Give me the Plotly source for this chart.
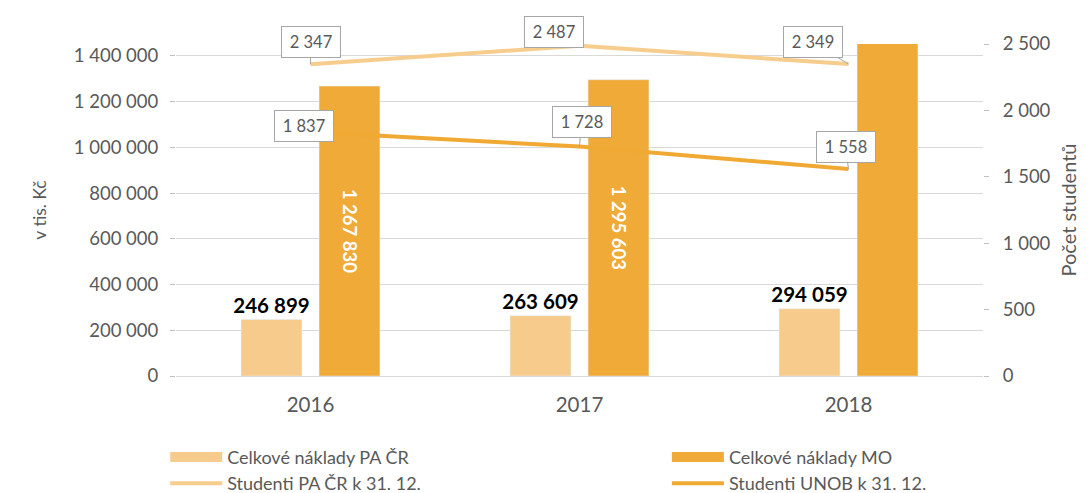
import plotly.graph_objects as go

years = ["2016", "2017", "2018"]
naklady_pa = [246899, 263609, 294059]
naklady_mo = [1267830, 1295603, 1455925]
studenti_pa = [2347, 2487, 2349]
studenti_unob = [1837, 1728, 1558]

y_ticks = [0, 200000, 400000, 600000, 800000, 1000000, 1200000, 1400000]
y2_ticks = [0, 500, 1000, 1500, 2000, 2500]

def fmt(v):
    return f"{v:,}".replace(",", " ")

FONT = "Lato"
GRAY = "#595959"
C_PA_BAR = "#F6CB8C"
C_MO_BAR = "#F0AA38"
C_PA_LINE = "#F7CD8E"
C_UNOB_LINE = "#F0A933"

fig = go.Figure()
fig.add_trace(go.Bar(
    x=years, y=naklady_pa, name="Celkové náklady PA ČR", showlegend=False,
    marker=dict(color=C_PA_BAR),
    text=["<b>" + fmt(v) + "</b>" for v in naklady_pa], textposition="outside",
    constraintext="none",
    textfont=dict(family=FONT, size=20.5, color="black"),
    cliponaxis=False,
))
fig.add_trace(go.Bar(
    x=years, y=naklady_mo, name="Celkové náklady MO", showlegend=False,
    marker=dict(color=C_MO_BAR),
    text=["<b>" + fmt(v) + "</b>" for v in naklady_mo], textposition="inside",
    insidetextanchor="middle", textangle=90, constraintext="none",
    textfont=dict(family=FONT, size=18.5, color="white"),
))
fig.add_trace(go.Scatter(
    x=years, y=studenti_pa, name="Studenti PA ČR k 31. 12.", yaxis="y2",
    mode="lines", line=dict(color=C_PA_LINE, width=4), showlegend=False,
))
fig.add_trace(go.Scatter(
    x=years, y=studenti_unob, name="Studenti UNOB k 31. 12.", yaxis="y2",
    mode="lines", line=dict(color=C_UNOB_LINE, width=4), showlegend=False,
))

# legend entries (two columns)
legend_items = [
    ("Celkové náklady PA ČR", C_PA_BAR, 14, "legend"),
    ("Studenti PA ČR k 31. 12.", C_PA_LINE, 4, "legend"),
    ("Celkové náklady MO", C_MO_BAR, 14, "legend2"),
    ("Studenti UNOB k 31. 12.", C_UNOB_LINE, 4, "legend2"),
]
for name, color, w, lg in legend_items:
    fig.add_trace(go.Scatter(
        x=[None], y=[None], name=name, mode="lines",
        line=dict(color=color, width=w), legend=lg, hoverinfo="skip",
    ))

# callout labels for lines (x as category index)
offsets_pa = [(0, -22), (-26, -14), (-36, -22)]
offsets_unob = [(-7, -6), (2, -25), (-3, -22)]
for vals, offs in ((studenti_pa, offsets_pa), (studenti_unob, offsets_unob)):
    for i, (v, (ax, ay)) in enumerate(zip(vals, offs)):
        fig.add_annotation(
            x=i, y=v, xref="x", yref="y2", text=fmt(v),
            showarrow=True, ax=ax, ay=ay, arrowhead=0, arrowwidth=1,
            arrowcolor="#A6A6A6", standoff=0,
            width=48, height=20,
            bgcolor="white", bordercolor="#A6A6A6", borderwidth=1, borderpad=5,
            font=dict(family=FONT, size=16.5, color=GRAY),
        )

legend_common = dict(
    orientation="v", xanchor="left", yanchor="top", yref="container", y=0.112,
    itemwidth=52, font=dict(family=FONT, size=18, color=GRAY),
    bgcolor="rgba(0,0,0,0)", tracegroupgap=0,
)

fig.update_layout(
    width=1081, height=485,
    margin=dict(l=168, r=96, t=36, b=117),
    paper_bgcolor="white", plot_bgcolor="white",
    font=dict(family=FONT, color=GRAY, size=18),
    barmode="group", bargap=0.42, bargroupgap=0.22,
    showlegend=True,
    legend=dict(x=-0.0134, **legend_common),
    legend2=dict(x=0.6083, **legend_common),
    xaxis=dict(
        type="category", range=[-0.5, 2.5],
        showgrid=False, showline=True, linecolor="#D9D9D9", linewidth=1,
        ticks="", tickfont=dict(size=20.5, color=GRAY), ticklabelstandoff=10,
    ),
    yaxis=dict(
        range=[0, 1452000], tickvals=y_ticks, ticktext=[fmt(v) for v in y_ticks],
        showgrid=True, gridcolor="#D9D9D9", gridwidth=1,
        zeroline=False, showline=False,
        ticks="outside", ticklen=5, tickcolor="#BFBFBF", ticklabelstandoff=8,
        tickfont=dict(size=18.5, color=GRAY),
        title=dict(text="v tis. Kč", font=dict(size=17.5, color=GRAY), standoff=22),
    ),
    yaxis2=dict(
        overlaying="y", side="right", range=[0, 2500], tickvals=y2_ticks,
        ticktext=[fmt(v) for v in y2_ticks], showgrid=False, zeroline=False, showline=False,
        ticks="outside", ticklen=5, tickcolor="#BFBFBF", ticklabelstandoff=10,
        tickfont=dict(size=18.5, color=GRAY),
        title=dict(text="Počet studentů", font=dict(size=20, color=GRAY), standoff=12),
    ),
)

fig.write_html("out.html")
